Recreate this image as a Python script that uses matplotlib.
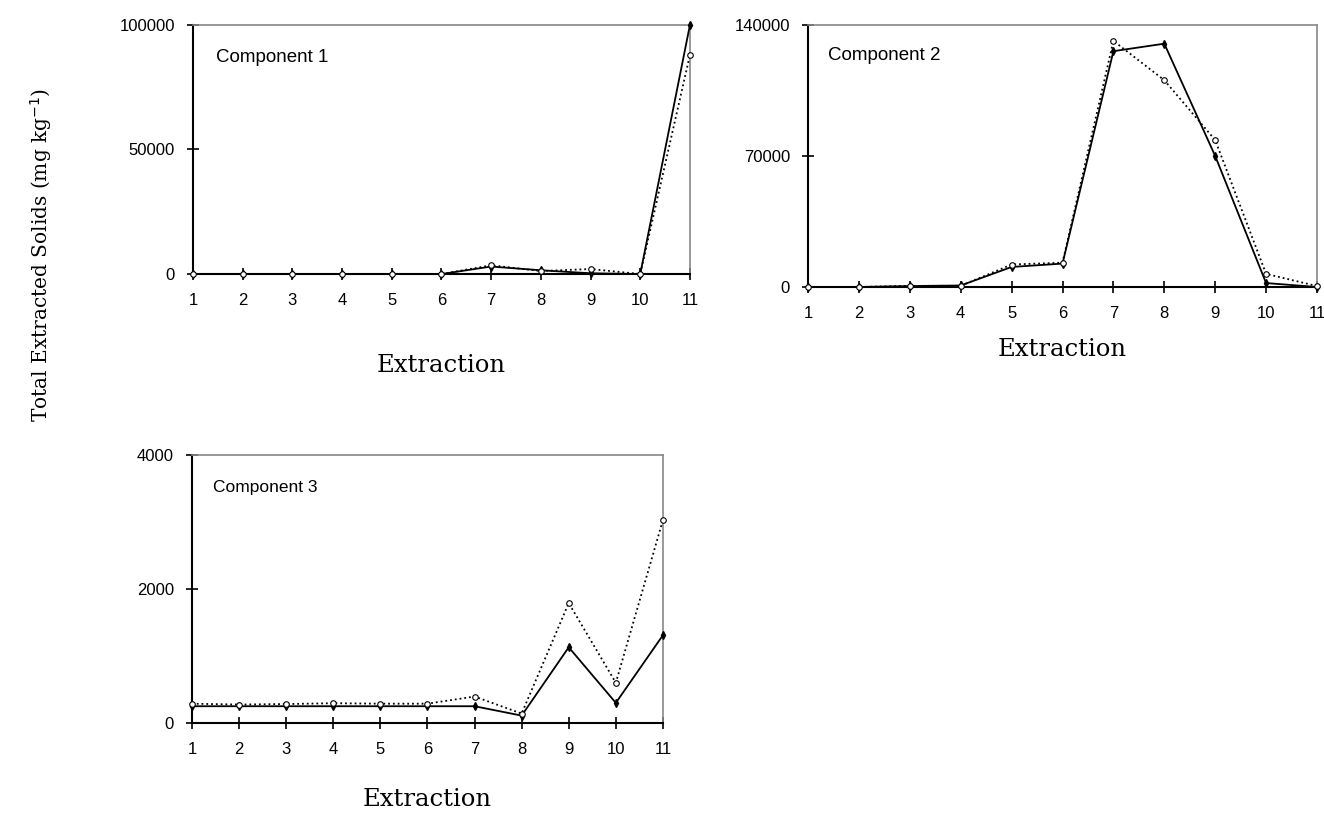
import numpy as np
import matplotlib.pyplot as plt

# data
extraction = [1, 2, 3, 4, 5, 6, 7, 8, 9, 10, 11]

comp1_solid = [0, 0, 0, 0, 0, 0, 3000, 1500, 300, 0, 100000]
comp1_dotted = [0, 0, 0, 0, 0, 0, 3500, 1200, 2000, 0, 88000]

comp2_solid = [0, 0, 500, 800, 10700, 12500, 126000, 130000, 70000, 2100, 0]
comp2_dotted = [0, 0, 600, 600, 12000, 13000, 131500, 110500, 78500, 7000, 500]

comp3_solid = [250, 250, 250, 250, 250, 250, 250, 110, 1130, 300, 1310]
comp3_dotted = [288, 275, 283, 295, 288, 288, 395, 140, 1790, 600, 3030]

panels = [
    ("Component 1", comp1_solid, comp1_dotted, [0, 50000, 100000]),
    ("Component 2", comp2_solid, comp2_dotted, [0, 70000, 140000]),
    ("Component 3", comp3_solid, comp3_dotted, [0, 2000, 4000]),
]

# axes boxes in figure fractions, measured on the reference
boxes = [
    [0.1458, 0.6642, 0.3753, 0.3052],
    [0.6103, 0.6483, 0.3844, 0.3211],
    [0.1450, 0.1140, 0.3557, 0.3284],
]
label_pos = [(0.046, 0.87), (0.04, 0.885), (0.045, 0.88)]
label_size = [13.5, 13.5, 12.5]
xlabel_y = [365, 350, 800]

sans = ['Liberation Sans', 'DejaVu Sans']
tick_font = {'family': sans, 'size': 12}
serif = ['DejaVu Serif']

fig = plt.figure(figsize=(13.24, 8.16), dpi=100)

for i, (name, solid, dotted, yt) in enumerate(panels):
    box = boxes[i]
    ax = fig.add_axes(box)
    ax.plot(extraction, solid, '-', color='black', lw=1.3, marker='d', ms=4,
            mfc='black', mec='black', clip_on=False, zorder=3)
    ax.plot(extraction, dotted, ':', color='black', lw=1.3, marker='o', ms=4,
            mfc='white', mec='black', mew=0.8, clip_on=False, zorder=3)
    ax.set_xlim(1, 11)
    ax.set_ylim(yt[0], yt[-1])
    ax.set_xticks(extraction)
    ax.set_yticks(yt)
    ax.set_xticklabels([str(v) for v in extraction], fontdict=tick_font)
    ax.set_yticklabels([str(v) for v in yt], fontdict=tick_font)
    ax.tick_params(direction='inout', length=8, width=1.2)
    ax.tick_params(axis='x', pad=10)
    ax.tick_params(axis='y', pad=9)
    ax.spines['left'].set_linewidth(1.5)
    ax.spines['bottom'].set_linewidth(1.5)
    for s in ['top', 'right']:
        ax.spines[s].set_color('#888888')
        ax.spines[s].set_linewidth(1.2)
    ax.text(label_pos[i][0], label_pos[i][1], name, transform=ax.transAxes,
            ha='left', va='center', family=sans, fontsize=label_size[i])
    cx = box[0] + box[2] / 2
    fig.text(cx, 1 - xlabel_y[i] / 816, 'Extraction', ha='center', va='center',
             family=serif, fontsize=17.5)

fig.text(0.031, 1 - 255 / 816, 'Total Extracted Solids (mg kg$^{-1}$)',
         rotation=90, ha='center', va='center', family=serif, fontsize=14.5)

fig.savefig('out.png', dpi=100)
